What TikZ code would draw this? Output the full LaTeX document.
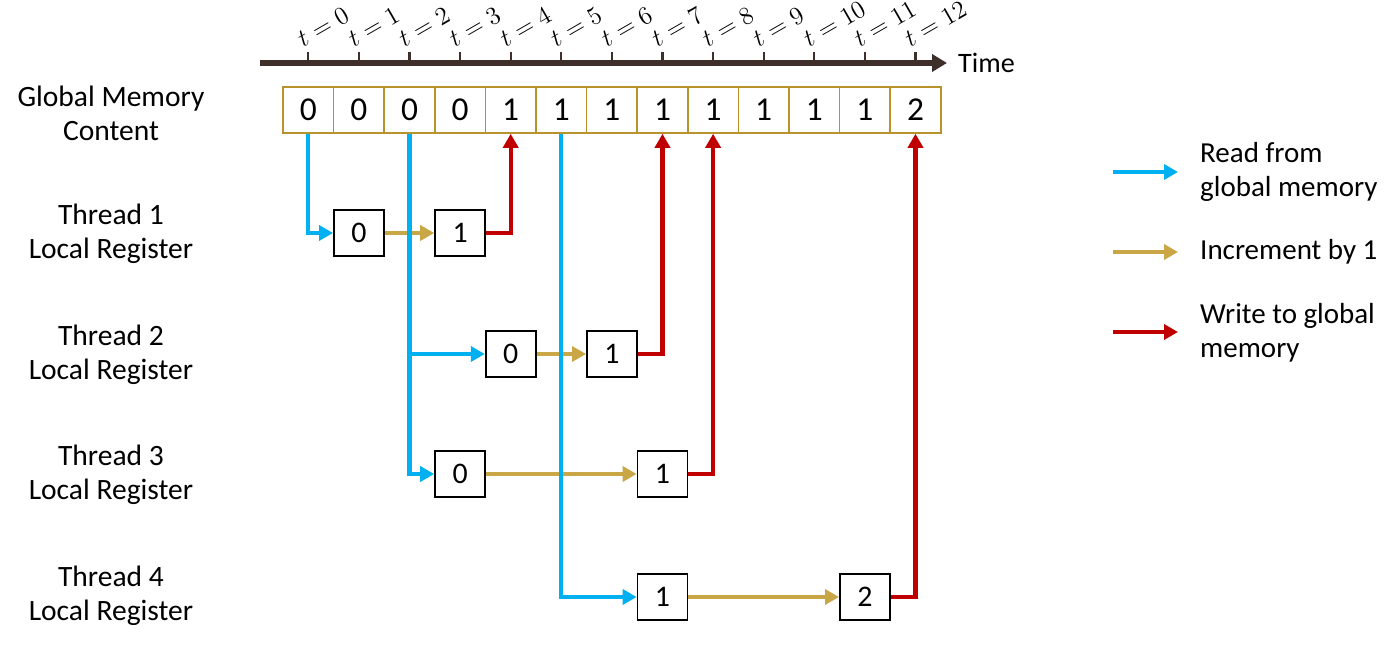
\documentclass[tikz,border=0pt]{standalone}
\usepackage{fontspec}
\setmainfont{Carlito}
\usetikzlibrary{arrows.meta}
\definecolor{rdblue}{HTML}{00B0F0}
\definecolor{incgold}{HTML}{C9A646}
\definecolor{wrred}{HTML}{C00000}
\definecolor{cellgold}{HTML}{B8922A}
\definecolor{axisdark}{HTML}{3E2F2B}
\tikzset{
  cell/.style={draw=cellgold, line width=0.9pt, minimum width=1.012cm, minimum height=0.92cm, inner sep=0pt, font=\fontsize{19}{22}\selectfont},
  reg/.style={draw=black, line width=1pt, fill=white, minimum width=1cm, minimum height=0.93cm, inner sep=0pt, font=\fontsize{17}{20}\selectfont},
  lbl/.style={align=center, font=\fontsize{16.8}{19.3}\selectfont},
  leg/.style={align=left, anchor=west, font=\fontsize{16.5}{19.3}\selectfont},
  conn/.style={line width=2.3pt, -{Triangle[length=0.28cm, width=0.3cm]}},
  rdarrow/.style={conn, rdblue},
  incarrow/.style={conn, incgold},
  wrarrow/.style={conn, wrred},
  tlabel/.style={anchor=south west, rotate=30, inner sep=0pt, font=\fontsize{15}{17}\selectfont},
}
\begin{document}
\begin{tikzpicture}[x=0.02cm, y=0.02cm]
\useasboundingbox (0,0) rectangle (1400,-648);
% time axis
\coordinate (axL) at (260,-63);
\coordinate (axR) at (947,-63);
\draw[axisdark, line width=3pt, -{Triangle[length=0.3cm, width=0.34cm]}] (axL) -- (axR);
\node[anchor=west, font=\fontsize{16}{19}\selectfont] (time) at (952,-63) {Time};
% ticks, labels and memory cells
\foreach \v [count=\i from 0] in {0,0,0,0,1,1,1,1,1,1,1,1,2} {
  \pgfmathsetmacro{\cx}{283+50.6*(\i+0.5)}
  \coordinate (k\i) at (\cx,-63);
  \coordinate (kt\i) at (\cx,-52);
  \coordinate (ta\i) at (\cx-5,-48);
  \draw[axisdark, line width=1.2pt] (kt\i) -- (k\i);
  \node[tlabel] (t\i) at (ta\i) {$t=\i$};
  \node[cell] (m\i) at (\cx,-110) {\v};
}
% left labels
\node[lbl] (lg) at (111,-113) {Global Memory\\Content};
\node[lbl] (l1) at (111,-234) {Thread 1\\Local Register};
\node[lbl] (l2) at (111,-355) {Thread 2\\Local Register};
\node[lbl] (l3) at (111,-475) {Thread 3\\Local Register};
\node[lbl] (l4) at (111,-596) {Thread 4\\Local Register};
% registers
\node[reg] (b10) at (m1.center |- 0,-233) {0};
\node[reg] (b11) at (m3.center |- 0,-233) {1};
\node[reg] (b20) at (m4.center |- 0,-354) {0};
\node[reg] (b21) at (m6.center |- 0,-354) {1};
\node[reg] (b30) at (m3.center |- 0,-474) {0};
\node[reg] (b31) at (m7.center |- 0,-474) {1};
\node[reg] (b41) at (m7.center |- 0,-597) {1};
\node[reg] (b42) at (m11.center |- 0,-597) {2};
% increment arrows
\draw[incarrow] (b10) -- (b11);
\draw[incarrow] (b20) -- (b21);
\draw[incarrow] (b30) -- (b31);
\draw[incarrow] (b41) -- (b42);
% read arrows
\draw[rdarrow] (m0.south) |- (b10.west);
\draw[rdarrow] (m2.south) |- (b20.west);
\draw[rdarrow] (m2.south) |- (b30.west);
\draw[rdarrow] (m5.south) |- (b41.west);
% write arrows
\draw[wrarrow] (b11.east) -| (m4.south);
\draw[wrarrow] (b21.east) -| (m7.south);
\draw[wrarrow] (b31.east) -| (m8.south);
\draw[wrarrow] (b42.east) -| (m12.south);
% legend
\coordinate (la1) at (1113,-172); \coordinate (lb1) at (1178,-172);
\coordinate (la2) at (1113,-252); \coordinate (lb2) at (1178,-252);
\coordinate (la3) at (1113,-332); \coordinate (lb3) at (1178,-332);
\draw[rdarrow] (la1) -- (lb1);
\draw[incarrow] (la2) -- (lb2);
\draw[wrarrow] (la3) -- (lb3);
\node[leg] (tx1) at (1194,-172) {Read from\\global memory};
\node[leg] (tx2) at (1194,-252) {Increment by 1};
\node[leg] (tx3) at (1194,-333) {Write to global\\memory};
\end{tikzpicture}
\end{document}
